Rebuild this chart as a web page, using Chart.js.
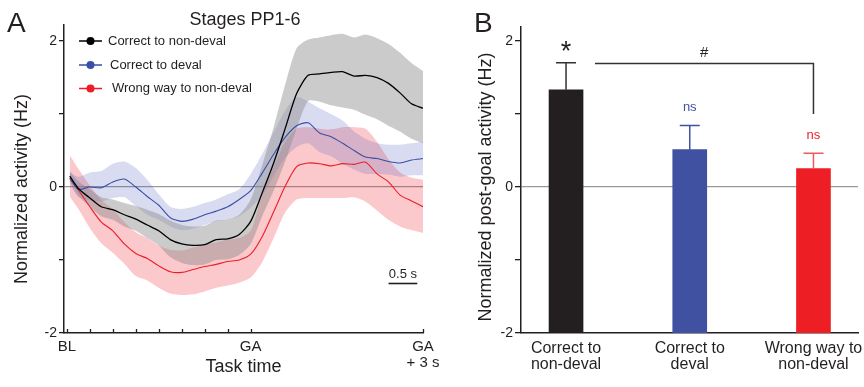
<!DOCTYPE html>
<html>
<head>
<meta charset="utf-8">
<script src="https://cdn.jsdelivr.net/npm/chart.js@4.4.1/dist/chart.umd.min.js"></script>
<style>
  body { margin: 0; background: #fff; width: 864px; height: 387px; overflow: hidden; position: relative; font-family: 'Liberation Sans', Arial, sans-serif; }
  #caixaA { position: absolute; left: 0; top: 0; width: 440px; height: 387px; }
  #caixaB { position: absolute; left: 440px; top: 0; width: 424px; height: 387px; }
  .painel { position: absolute; font-size: 28px; line-height: 1; color: #231f20; }
</style>
</head>
<body>
<div id="caixaA"><canvas id="graficoA" width="440" height="387"></canvas></div>
<div id="caixaB"><canvas id="graficoB" width="424" height="387"></canvas></div>
<div class="painel" style="left:7px; top:9px">A</div>
<div class="painel" style="left:474px; top:9px">B</div>
<script>
// ---- Painel A: atividade normalizada ao longo do tempo (s, relativo a GA) ----
const tempo = [-3.15, -3.0, -2.8, -2.6, -2.4, -2.2, -2.0, -1.8, -1.6, -1.4, -1.2, -1.0, -0.8, -0.6, -0.4, -0.2,
               0, 0.2, 0.4, 0.6, 0.8, 1.0, 1.2, 1.4, 1.6, 1.8, 2.0, 2.2, 2.4, 2.6, 2.8, 3.0];

const pretoMedia = [0.15, -0.02, -0.15, -0.27, -0.31, -0.38, -0.44, -0.52, -0.60, -0.72, -0.78, -0.80, -0.79, -0.72, -0.71, -0.65,
                    -0.47, -0.08, 0.33, 0.80, 1.28, 1.53, 1.55, 1.57, 1.58, 1.52, 1.53, 1.50, 1.42, 1.29, 1.14, 1.08];
const pretoSup = [0.22, 0.08, -0.03, -0.14, -0.17, -0.22, -0.26, -0.31, -0.37, -0.46, -0.52, -0.54, -0.53, -0.46, -0.44, -0.38,
                  -0.17, 0.30, 0.82, 1.40, 1.90, 2.02, 2.05, 2.08, 2.10, 2.05, 2.09, 2.04, 1.96, 1.84, 1.70, 1.59];
const pretoInf = [0.08, -0.12, -0.27, -0.40, -0.45, -0.54, -0.60, -0.70, -0.80, -0.96, -1.04, -1.07, -1.06, -1.00, -0.99, -0.93,
                  -0.78, -0.40, -0.05, 0.35, 0.80, 1.18, 1.17, 1.12, 1.09, 1.06, 0.99, 0.93, 0.84, 0.76, 0.66, 0.60];

const azulMedia = [0.12, -0.03, 0.0, -0.01, 0.07, 0.11, 0.0, -0.13, -0.25, -0.42, -0.47, -0.44, -0.38, -0.33, -0.27, -0.17,
                   -0.05, 0.19, 0.45, 0.68, 0.84, 0.88, 0.74, 0.69, 0.60, 0.50, 0.41, 0.39, 0.35, 0.33, 0.37, 0.39];
const azulSup = [0.20, 0.14, 0.20, 0.22, 0.32, 0.35, 0.26, 0.10, -0.10, -0.27, -0.30, -0.27, -0.22, -0.17, -0.10, -0.03,
                 0.18, 0.45, 0.75, 1.05, 1.23, 1.17, 1.08, 1.00, 0.91, 0.76, 0.66, 0.60, 0.58, 0.58, 0.60, 0.62];
const azulInf = [0.04, -0.14, -0.18, -0.20, -0.15, -0.14, -0.26, -0.38, -0.45, -0.54, -0.59, -0.57, -0.52, -0.47, -0.44, -0.40,
                 -0.28, -0.12, 0.15, 0.40, 0.55, 0.60, 0.48, 0.42, 0.32, 0.24, 0.18, 0.18, 0.17, 0.14, 0.16, 0.16];

const vermMedia = [0.12, -0.04, -0.27, -0.48, -0.60, -0.78, -0.91, -0.98, -1.08, -1.16, -1.17, -1.13, -1.09, -1.06, -1.02, -1.00,
                   -0.92, -0.68, -0.34, 0.01, 0.28, 0.33, 0.32, 0.29, 0.32, 0.31, 0.34, 0.18, 0.07, -0.11, -0.19, -0.27];
const vermSup = [0.44, 0.25, 0.02, -0.18, -0.30, -0.48, -0.62, -0.70, -0.80, -0.86, -0.87, -0.83, -0.79, -0.76, -0.72, -0.70,
                 -0.60, -0.10, 0.27, 0.62, 0.80, 0.82, 0.80, 0.79, 0.82, 0.82, 0.80, 0.62, 0.38, 0.20, 0.13, 0.10];
const vermInf = [-0.13, -0.30, -0.56, -0.77, -0.90, -1.05, -1.22, -1.28, -1.38, -1.46, -1.48, -1.47, -1.43, -1.38, -1.35, -1.31,
                 -1.24, -1.03, -0.70, -0.35, -0.17, -0.15, -0.15, -0.15, -0.15, -0.14, -0.20, -0.32, -0.45, -0.54, -0.59, -0.63];

const marcasX = [-3.2, -2.8, -2.4, -2.0, -1.6, -1.2, -0.8, -0.4, 0, 3];
const rotulosX = ['BL', '', '', '', '', '', '', '', 'GA', ['GA', '+ 3 s']];
const marcasY = [-2, -1, 0, 1, 2];
const nomesSeries = ['Correct to non-deval', 'Correct to deval', 'Wrong way to non-deval'];
const escalaTempo = 0.5; // barra de escala de 0.5 s

// ---- Painel B: atividade pós-objetivo ----
const categoriasB = [['Correct to', 'non-deval'], ['Correct to', 'deval'], ['Wrong way to', 'non-deval']];
const mediasB = [1.33, 0.51, 0.25];
const erroB = [0.37, 0.33, 0.21];
const signifB = ['*', 'ns', 'ns'];

const fonte = "'Liberation Sans', Arial, sans-serif";
const corTexto = '#231f20';
const corLinhas = ['#000000', '#3a4ea5', '#ee1c25'];
const corFaixas = ['rgba(140,140,140,0.45)', 'rgba(63,81,181,0.2)', 'rgba(237,28,36,0.24)'];
const corBarras = ['#231f20', '#3f51a0', '#ed1f24'];
const corErro = ['#333333', '#3f51a0', '#f0585a'];

Chart.defaults.font.family = fonte;
Chart.defaults.color = corTexto;

function pares(ys) {
    return tempo.map((t, i) => ({ x: t, y: ys[i] }));
}

function eixoY(largura, topo, tamTick) {
    return {
        min: -2,
        max: topo,
        afterBuildTicks: s => { s.ticks = marcasY.map(v => ({ value: v })); },
        afterFit: s => { s.width = largura; },
        grid: {
            drawOnChartArea: true,
            color: c => (c.tick && c.tick.value === 0 ? '#9a9a9a' : 'rgba(0,0,0,0)'),
            tickColor: corTexto,
            tickLength: tamTick,
            lineWidth: 1.3
        },
        border: { color: corTexto, width: 1.5 },
        ticks: { padding: 2, font: { size: 14 }, callback: v => (v % 2 === 0 ? String(v) : '') }
    };
}

// o eixo x nao deve empurrar a area do grafico por causa dos rotulos das pontas
function ajustaX(s) {
    s.height = 54;
    s.paddingLeft = 0;
    s.paddingRight = 0;
}

function tituloVertical(ctx, texto, x, y) {
    ctx.save();
    ctx.translate(x, y);
    ctx.rotate(-Math.PI / 2);
    ctx.font = '18px ' + fonte;
    ctx.fillStyle = corTexto;
    ctx.textAlign = 'center';
    ctx.textBaseline = 'alphabetic';
    ctx.fillText(texto, 0, 0);
    ctx.restore();
}

// extras do painel A: marcas internas no eixo x, barra de escala, legenda, titulo
const extrasA = {
    id: 'extrasA',
    afterDraw(chart) {
        const ctx = chart.ctx;
        const xs = chart.scales.x;
        const ys = chart.scales.y;
        const baixo = chart.chartArea.bottom;
        ctx.save();
        ctx.strokeStyle = corTexto;
        ctx.lineWidth = 1.3;
        marcasX.forEach(v => {
            const px = Math.round(xs.getPixelForValue(v)) + 0.5;
            ctx.beginPath();
            ctx.moveTo(px, baixo);
            ctx.lineTo(px, baixo - 4);
            ctx.stroke();
        });

        // barra de escala (0.5 s) no canto inferior direito
        const xFimEscala = xs.getPixelForValue(xs.max - 0.1);
        const xIniEscala = xFimEscala - (xs.getPixelForValue(escalaTempo) - xs.getPixelForValue(0));
        const yEscala = Math.round(ys.getPixelForValue(-1.31)) + 0.5;
        ctx.lineWidth = 1.6;
        ctx.beginPath();
        ctx.moveTo(xIniEscala, yEscala);
        ctx.lineTo(xFimEscala, yEscala);
        ctx.stroke();
        ctx.font = '13px ' + fonte;
        ctx.fillStyle = corTexto;
        ctx.textAlign = 'center';
        ctx.textBaseline = 'alphabetic';
        ctx.fillText(escalaTempo + ' s', (xIniEscala + xFimEscala) / 2, yEscala - 5.5);

        // legenda
        const linhasY = [41, 65, 88.5];
        ctx.textBaseline = 'middle';
        ctx.textAlign = 'left';
        nomesSeries.forEach((nome, i) => {
            const y = linhasY[i];
            ctx.strokeStyle = corLinhas[i];
            ctx.fillStyle = corLinhas[i];
            ctx.lineWidth = 1.5;
            ctx.beginPath();
            ctx.moveTo(79, y);
            ctx.lineTo(102, y);
            ctx.stroke();
            ctx.beginPath();
            ctx.arc(90.5, y, 4, 0, Math.PI * 2);
            ctx.fill();
            ctx.fillStyle = corTexto;
            ctx.fillText(nome, 108 + i * 2, y);
        });

        ctx.font = '18px ' + fonte;
        ctx.textAlign = 'center';
        ctx.textBaseline = 'alphabetic';
        ctx.fillText('Stages PP1-6', 245, 25);
        ctx.restore();

        tituloVertical(ctx, 'Normalized activity (Hz)', 26.5, 189);
    }
};

const linhaBase = { pointRadius: 0, tension: 0.25, fill: false };

new Chart(document.getElementById('graficoA'), {
    type: 'line',
    data: {
        datasets: [
            { ...linhaBase, data: pares(pretoMedia), borderColor: corLinhas[0], borderWidth: 1.3, order: 0 },
            { ...linhaBase, data: pares(azulMedia), borderColor: corLinhas[1], borderWidth: 1.1, order: 0 },
            { ...linhaBase, data: pares(vermMedia), borderColor: corLinhas[2], borderWidth: 1.1, order: 0 },
            { ...linhaBase, data: pares(pretoSup), borderWidth: 0, fill: '+1', backgroundColor: corFaixas[0], order: 1 },
            { ...linhaBase, data: pares(pretoInf), borderWidth: 0, order: 1 },
            { ...linhaBase, data: pares(azulSup), borderWidth: 0, fill: '+1', backgroundColor: corFaixas[1], order: 1 },
            { ...linhaBase, data: pares(azulInf), borderWidth: 0, order: 1 },
            { ...linhaBase, data: pares(vermSup), borderWidth: 0, fill: '+1', backgroundColor: corFaixas[2], order: 1 },
            { ...linhaBase, data: pares(vermInf), borderWidth: 0, order: 1 }
        ]
    },
    options: {
        responsive: false,
        animation: false,
        events: [],
        layout: { padding: { left: 0, top: 25, right: 17, bottom: 0 } },
        plugins: { legend: { display: false }, tooltip: { enabled: false } },
        scales: {
            x: {
                type: 'linear',
                min: -3.25,
                max: 3.0,
                afterBuildTicks: s => { s.ticks = marcasX.map(v => ({ value: v })); },
                afterFit: ajustaX,
                grid: { drawOnChartArea: false, drawTicks: false, color: 'rgba(0,0,0,0)' },
                border: { color: corTexto, width: 1.5 },
                ticks: { autoSkip: false, maxRotation: 0, padding: 6, font: { size: 15, lineHeight: 1.05 },
                         callback: (v, i) => rotulosX[i] },
                title: { display: true, text: 'Task time', font: { size: 18 }, padding: { top: 0, bottom: 9 } }
            },
            y: eixoY(64, 2.22, 5)
        }
    },
    plugins: [extrasA]
});

// extras do painel B: barras de erro, significancia, colchete
const extrasB = {
    id: 'extrasB',
    afterDatasetsDraw(chart) {
        const ctx = chart.ctx;
        const xs = chart.scales.x;
        const ys = chart.scales.y;
        ctx.save();
        ctx.lineWidth = 1.5;
        mediasB.forEach((m, i) => {
            const px = xs.getPixelForValue(i);
            const yBarra = ys.getPixelForValue(m);
            const yTopo = ys.getPixelForValue(m + erroB[i]);
            ctx.strokeStyle = corErro[i];
            ctx.beginPath();
            ctx.moveTo(px, yBarra);
            ctx.lineTo(px, yTopo);
            ctx.moveTo(px - 10, yTopo);
            ctx.lineTo(px + 10, yTopo);
            ctx.stroke();

            ctx.textAlign = 'center';
            ctx.textBaseline = 'alphabetic';
            if (signifB[i] === '*') {
                ctx.font = '27px ' + fonte;
                ctx.fillStyle = corTexto;
                ctx.fillText('*', px, yTopo - 3);
            } else {
                ctx.font = '13px ' + fonte;
                ctx.fillStyle = corBarras[i];
                ctx.fillText(signifB[i], px, yTopo - 14.5);
            }
        });

        // colchete '#': do topo do erro da 1a barra ate a 3a barra
        const yNivel = Math.round(ys.getPixelForValue(mediasB[0] + erroB[0])) + 0.5;
        const xIni = xs.getPixelForValue(0) + 29;
        const xFim = xs.getPixelForValue(2);
        ctx.strokeStyle = '#333333';
        ctx.beginPath();
        ctx.moveTo(xIni, yNivel);
        ctx.lineTo(xFim, yNivel);
        ctx.lineTo(xFim, ys.getPixelForValue(1));
        ctx.stroke();
        ctx.font = '15px ' + fonte;
        ctx.fillStyle = corTexto;
        ctx.fillText('#', (xIni + xFim) / 2, yNivel - 7);
        ctx.restore();

        tituloVertical(ctx, 'Normalized post-goal activity (Hz)', 50.5, 187);
    }
};

new Chart(document.getElementById('graficoB'), {
    type: 'bar',
    data: {
        datasets: [{
            data: mediasB.map((m, i) => ({ x: i, y: [-2, m] })),
            backgroundColor: corBarras,
            borderWidth: 0,
            barThickness: 34
        }]
    },
    options: {
        responsive: false,
        animation: false,
        events: [],
        layout: { padding: { left: 0, top: 27, right: 6, bottom: 0 } },
        plugins: { legend: { display: false }, tooltip: { enabled: false } },
        scales: {
            x: {
                type: 'linear',
                offset: false,
                min: -0.364,
                max: 2.36,
                afterBuildTicks: s => { s.ticks = [0, 1, 2].map(v => ({ value: v })); },
                afterFit: ajustaX,
                grid: { drawOnChartArea: false, drawTicks: false, color: 'rgba(0,0,0,0)', offset: false },
                border: { color: corTexto, width: 1.5 },
                ticks: { autoSkip: false, maxRotation: 0, padding: 7, font: { size: 16, lineHeight: 1.03 },
                         callback: (v, i) => categoriasB[i] }
            },
            y: eixoY(81, 2.19, 6)
        }
    },
    plugins: [extrasB]
});
</script>
</body>
</html>
